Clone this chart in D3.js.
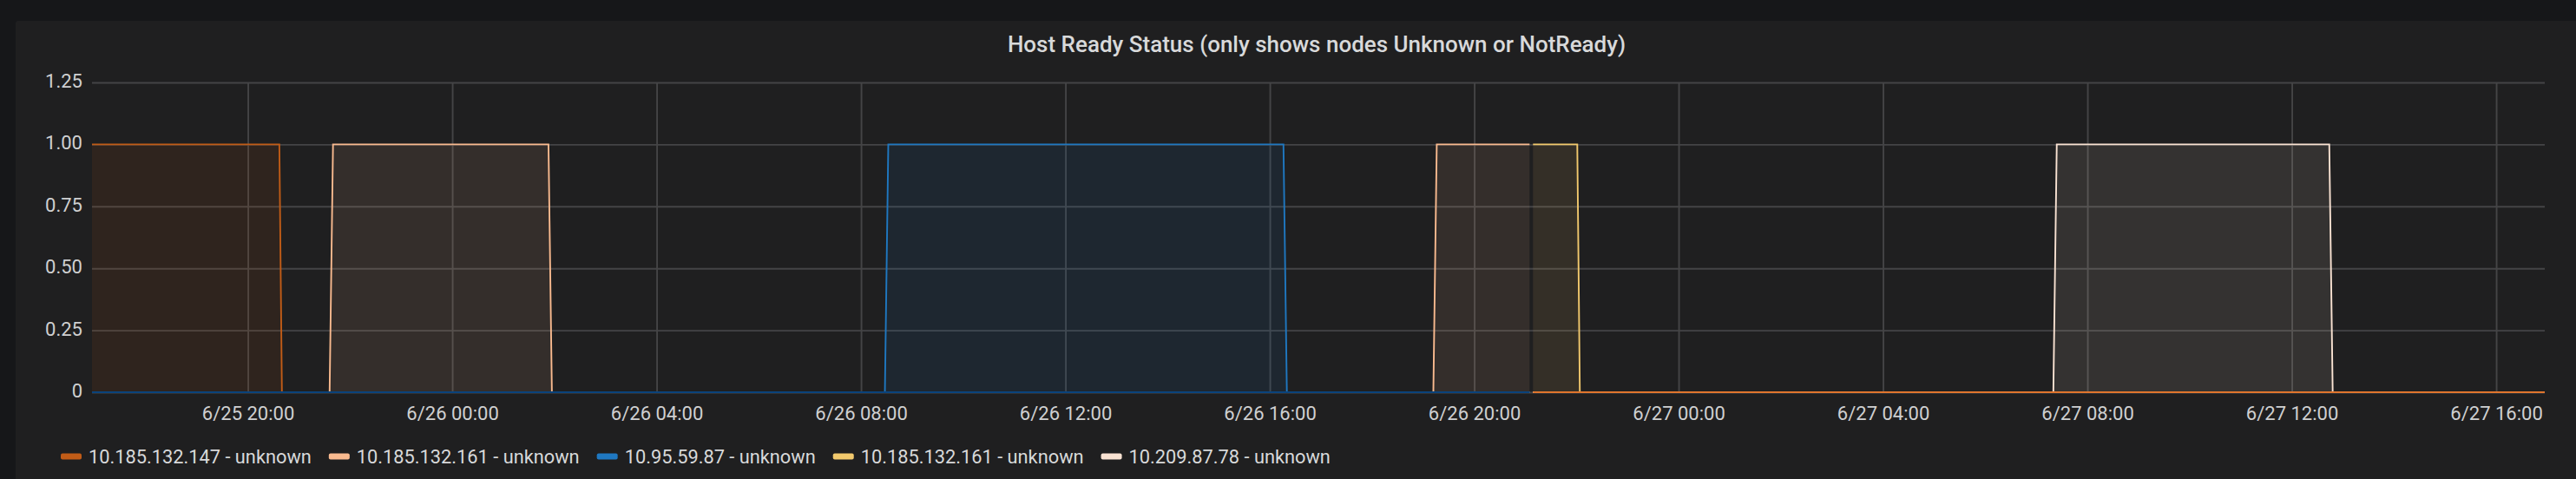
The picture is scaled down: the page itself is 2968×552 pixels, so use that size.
<!DOCTYPE html>
<html><head><meta charset="utf-8">
<script src="https://cdn.jsdelivr.net/npm/d3@7"></script>
<style>
html,body{margin:0;padding:0;background:#161719;}
svg{display:block;font-family:Roboto,"Helvetica Neue",Arial,sans-serif;}
</style></head><body>
<svg id="chart" width="2968" height="552"></svg>
<script>
// ---------------- data ----------------
const chartTitle = "Host Ready Status (only shows nodes Unknown or NotReady)";
const timeDomain = ["2019-06-25 16:57", "2019-06-27 16:57"];
const xTickLabels = ["6/25 20:00","6/26 00:00","6/26 04:00","6/26 08:00","6/26 12:00","6/26 16:00",
                     "6/26 20:00","6/27 00:00","6/27 04:00","6/27 08:00","6/27 12:00","6/27 16:00"];
const yTicks = [0, 0.25, 0.5, 0.75, 1, 1.25];
const yTickLabels = ["0", "0.25", "0.50", "0.75", "1.00", "1.25"];

const seriesNames = ["10.185.132.147 - unknown", "10.185.132.161 - unknown", "10.95.59.87 - unknown",
                     "10.185.132.161 - unknown", "10.209.87.78 - unknown"];
const seriesColors = ["#C15C17", "#F9BA8F", "#1F78C1", "#F2C96D", "#F9E2D2"];

const s1Times  = ["2019-06-25 16:57","2019-06-25 20:37","2019-06-25 20:40","2019-06-26 21:05"];
const s1Values = [1, 1, 0, 0];
const s2Times  = ["2019-06-25 16:57","2019-06-25 21:36","2019-06-25 21:40","2019-06-26 01:53","2019-06-26 01:57",
                  "2019-06-26 19:12","2019-06-26 19:16","2019-06-26 21:05"];
const s2Values = [0, 0, 1, 1, 0, 0, 1, 1];
const s3Times  = ["2019-06-25 16:57","2019-06-26 08:28","2019-06-26 08:32","2019-06-26 16:16","2019-06-26 16:20","2019-06-26 21:05"];
const s3Values = [0, 0, 1, 1, 0, 0];
const s4Times  = ["2019-06-26 21:09","2019-06-26 22:01","2019-06-26 22:04","2019-06-27 16:57"];
const s4Values = [1, 1, 0, 0];
const s5Times  = ["2019-06-26 21:09","2019-06-27 07:20","2019-06-27 07:24","2019-06-27 12:44","2019-06-27 12:48","2019-06-27 16:57"];
const s5Values = [0, 0, 1, 1, 0, 0];

// all-zero series hidden from the legend (they draw the baseline)
const zeroSeriesColors = ["#0A437C", "#E0752D"];
const z1Times  = ["2019-06-25 16:57","2019-06-26 21:05"];
const z1Values = [0, 0];
const z2Times  = ["2019-06-26 21:09","2019-06-27 16:57"];
const z2Values = [0, 0];

// ---------------- layout ----------------
const W = 2968, H = 552;
const plot = {left: 106, right: 2932, top: 95, bottom: 452};
const parseT = d3.utcParse("%Y-%m-%d %H:%M");
const parseTick = d3.utcParse("%Y/%m/%d %H:%M");

const svg = d3.select("#chart");
svg.append("rect").attr("x",0).attr("y",0).attr("width",W).attr("height",H).attr("fill","#161719");
svg.append("rect").attr("x",18).attr("y",24).attr("width",W).attr("height",H).attr("rx",3).attr("fill","#1f1f20");

svg.append("text").attr("x",1517).attr("y",60).attr("text-anchor","middle")
  .attr("font-size",26).attr("font-weight",500).attr("fill","#d8d9da").text(chartTitle);

const x = d3.scaleUtc().domain(timeDomain.map(parseT)).range([plot.left, plot.right]);
const y = d3.scaleLinear().domain([0, 1.25]).range([plot.bottom, plot.top]);
const xTickDates = xTickLabels.map(l => parseTick("2019/" + l));

// grid
const gridColor = "#444446";
const gx = svg.append("g").attr("transform",`translate(0,${plot.bottom})`)
  .call(d3.axisBottom(x).tickValues(xTickDates).tickSize(-(plot.bottom-plot.top)).tickFormat(""));
gx.select(".domain").remove();
gx.selectAll("line").attr("stroke",gridColor).attr("stroke-width",1.9);
const gy = svg.append("g").attr("transform",`translate(${plot.left},0)`)
  .call(d3.axisLeft(y).tickValues(yTicks).tickSize(-(plot.right-plot.left)).tickFormat(""));
gy.select(".domain").remove();
gy.selectAll("line").attr("stroke",gridColor).attr("stroke-width",1.9);

// axes labels
const ax = svg.append("g").attr("transform",`translate(0,${plot.bottom})`)
  .call(d3.axisBottom(x).tickValues(xTickDates).tickSize(0).tickPadding(16).tickFormat((d,i)=>xTickLabels[i]));
ax.select(".domain").remove();
ax.selectAll("text").attr("font-size",22).attr("fill","#cfd0d1").attr("font-family","Roboto");
const ay = svg.append("g").attr("transform",`translate(${plot.left},0)`)
  .call(d3.axisLeft(y).tickValues(yTicks).tickSize(0).tickPadding(11).tickFormat((d,i)=>yTickLabels[i]));
ay.select(".domain").remove();
ay.selectAll("text").attr("font-size",22).attr("fill","#cfd0d1").attr("font-family","Roboto").attr("dy","0.25em");

// series
const series = [
  {t:s1Times, v:s1Values, c:seriesColors[0]},
  {t:s2Times, v:s2Values, c:seriesColors[1]},
  {t:s3Times, v:s3Values, c:seriesColors[2]},
  {t:s4Times, v:s4Values, c:seriesColors[3]},
  {t:s5Times, v:s5Values, c:seriesColors[4]},
  {t:z1Times, v:z1Values, c:zeroSeriesColors[0]},
  {t:z2Times, v:z2Values, c:zeroSeriesColors[1]}
].map(s => ({c:s.c, pts:s.t.map((t,i)=>({d:parseT(t), v:s.v[i]}))}));

svg.append("clipPath").attr("id","clip").append("rect")
  .attr("x",plot.left).attr("y",plot.top-2).attr("width",plot.right-plot.left).attr("height",plot.bottom-plot.top+4);
const sg = svg.append("g").attr("clip-path","url(#clip)");
const area = d3.area().x(p=>x(p.d)).y0(y(0)).y1(p=>y(p.v));
const line = d3.line().x(p=>x(p.d)).y(p=>y(p.v));
series.forEach(s=>{
  sg.append("path").attr("d",area(s.pts)).attr("fill",s.c).attr("fill-opacity",0.1);
});
series.forEach(s=>{
  sg.append("path").attr("d",line(s.pts)).attr("fill","none").attr("stroke",s.c).attr("stroke-width",1.9);
});

// legend
const lg = svg.append("g");
let lx = 70;
seriesNames.forEach((n,i)=>{
  lg.append("rect").attr("x",lx).attr("y",522.5).attr("width",24).attr("height",7).attr("rx",2).attr("fill",seriesColors[i]);
  const t = lg.append("text").attr("x",lx+32).attr("y",533.5).attr("font-size",21.8)
    .attr("fill","#d8d9da").attr("font-family","Roboto").text(n);
  lx = lx + 32 + t.node().getComputedTextLength() + 20;
});
</script>
</body></html>
